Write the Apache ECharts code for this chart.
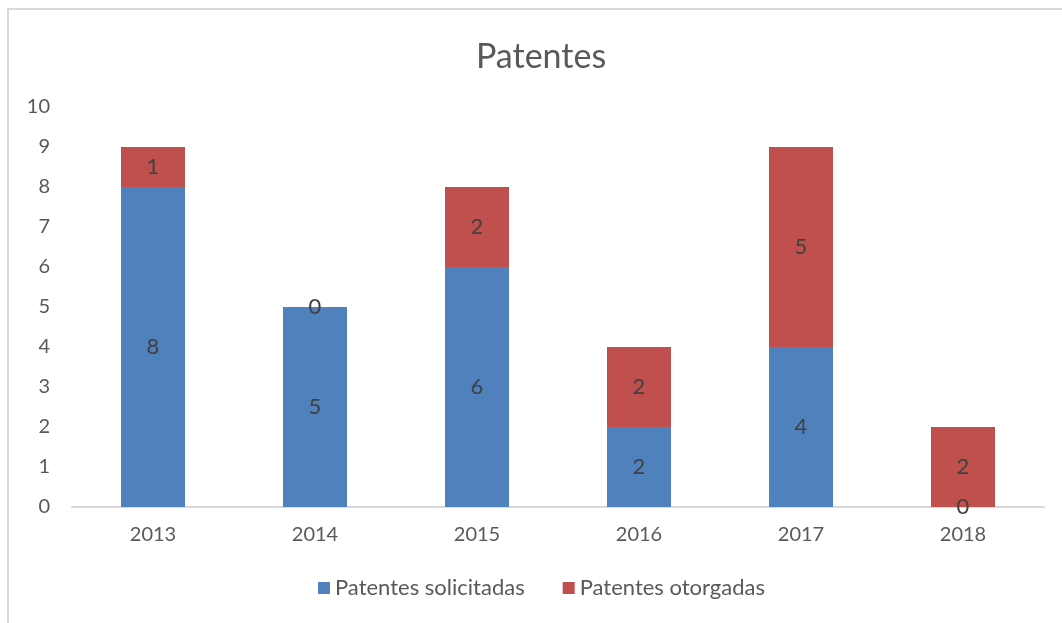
<!DOCTYPE html>
<html>
<head>
<meta charset="utf-8">
<script src="https://cdn.jsdelivr.net/npm/echarts@6/dist/echarts.min.js"></script>
<style>
  html, body { margin: 0; padding: 0; background: #fff; }
  #chart { width: 1062px; height: 623px; }
</style>
</head>
<body>
<div id="chart"></div>
<script>
const years = ['2013', '2014', '2015', '2016', '2017', '2018']
const solicitadas = [8, 5, 6, 2, 4, 0]
const otorgadas = [1, 0, 2, 2, 5, 2]
const yTicks = [0, 10, 1]

const font = 'Lato, "Open Sans", sans-serif'
const myChart = echarts.init(document.getElementById('chart'))

const labelStyle = {
  show: true,
  position: 'inside',
  color: '#404040',
  fontSize: 22,
  fontFamily: font
}

const option = {
  animation: false,
  backgroundColor: '#fff',
  graphic: [{
    type: 'rect',
    shape: { x: 8, y: 9, width: 1070, height: 630 },
    style: { fill: 'none', stroke: '#d9d9d9', lineWidth: 2 },
    silent: true
  }],
  title: {
    text: 'Patentes',
    left: 471,
    top: 35,
    textStyle: { color: '#595959', fontSize: 34, fontWeight: 'normal', fontFamily: font }
  },
  legend: {
    bottom: 19,
    left: 313,
    itemWidth: 12,
    itemHeight: 12,
    itemGap: 38,
    icon: 'rect',
    textStyle: { color: '#595959', fontSize: 22, fontFamily: font }
  },
  grid: { left: 72, right: 18, top: 107, bottom: 116 },
  xAxis: {
    type: 'category',
    data: years,
    axisLine: { show: true, lineStyle: { color: '#d9d9d9', width: 2 } },
    axisTick: { show: false },
    axisLabel: { color: '#595959', fontSize: 20, fontFamily: font, margin: 18 }
  },
  yAxis: {
    type: 'value',
    min: yTicks[0],
    max: yTicks[1],
    interval: yTicks[2],
    axisLine: { show: false },
    axisTick: { show: false },
    splitLine: { show: false },
    axisLabel: { color: '#595959', fontSize: 20, fontFamily: font, margin: 22 }
  },
  series: [
    {
      name: 'Patentes solicitadas',
      type: 'bar',
      stack: 'total',
      barWidth: 64,
      itemStyle: { color: '#4f81bd' },
      label: labelStyle,
      data: solicitadas
    },
    {
      name: 'Patentes otorgadas',
      type: 'bar',
      stack: 'total',
      barWidth: 64,
      itemStyle: { color: '#c0504d' },
      label: labelStyle,
      data: otorgadas
    }
  ]
}
myChart.setOption(option)
</script>
</body>
</html>
